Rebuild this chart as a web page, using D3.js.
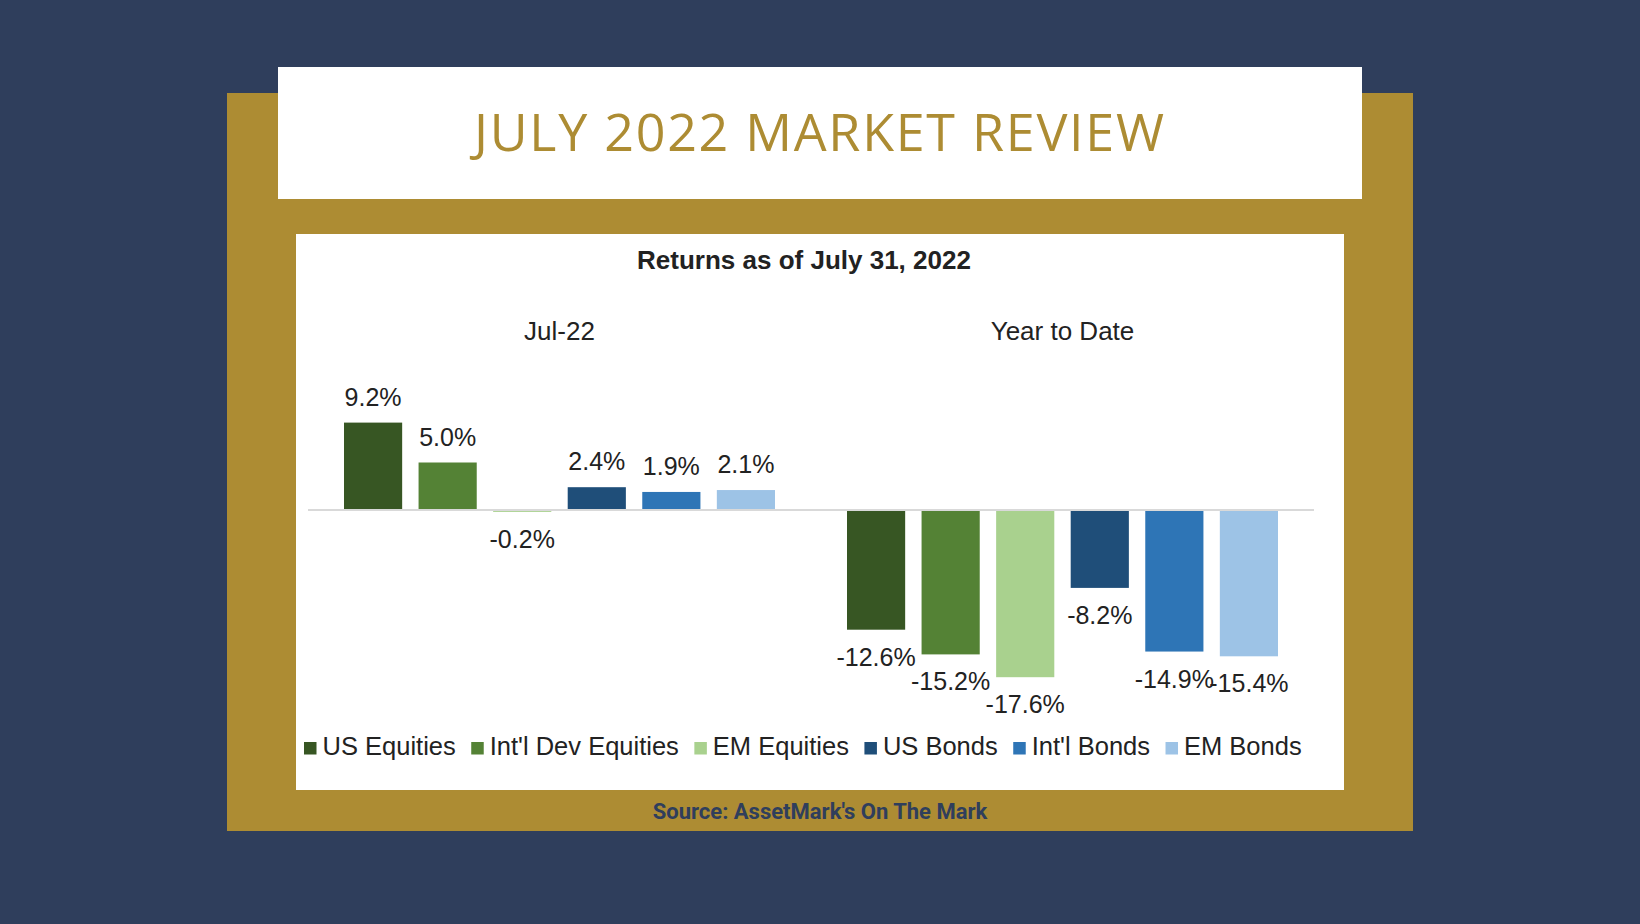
<!DOCTYPE html>
<html>
<head>
<meta charset="utf-8">
<script src="https://cdn.jsdelivr.net/npm/d3@7"></script>
<style>
  body { margin: 0; background: #2f3e5c; }
  svg { display: block; }
</style>
</head>
<body>
<div id="chart"></div>
<script>
// chart values
const periods = ["Jul-22", "Year to Date"];
const assetClasses = ["US Equities", "Int'l Dev Equities", "EM Equities", "US Bonds", "Int'l Bonds", "EM Bonds"];
const julReturns = [9.2, 5.0, -0.2, 2.4, 1.9, 2.1];
const ytdReturns = [-12.6, -15.2, -17.6, -8.2, -14.9, -15.4];
const seriesColors = ["#375623", "#548235", "#a9d18e", "#1f4e79", "#2e75b6", "#9dc3e6"];

const W = 1640, H = 924;
const NAVY = "#2f3e5c", GOLD = "#ad8c33";

const rows = [];
periods.forEach((p, i) => {
  const vals = i === 0 ? julReturns : ytdReturns;
  assetClasses.forEach((a, j) => rows.push({period: p, asset: a, value: vals[j]}));
});

const svg = d3.select("#chart").append("svg")
  .attr("width", W)
  .attr("height", H);

svg.append("rect").attr("width", W).attr("height", H).attr("fill", NAVY);

// gold frame, header card, chart card
svg.append("rect").attr("x", 227).attr("y", 93).attr("width", 1186).attr("height", 738).attr("fill", GOLD);
svg.append("rect").attr("x", 278).attr("y", 67).attr("width", 1084).attr("height", 132).attr("fill", "#fff");
svg.append("rect").attr("x", 296).attr("y", 234).attr("width", 1048).attr("height", 556).attr("fill", "#fff");

svg.append("text")
  .attr("x", 819).attr("y", 151)
  .attr("text-anchor", "middle")
  .attr("font-family", "'Open Sans', sans-serif")
  .attr("font-weight", 400)
  .attr("font-size", 52)
  .attr("textLength", 690)
  .attr("lengthAdjust", "spacing")
  .attr("fill", GOLD)
  .text("JULY 2022 MARKET REVIEW");

svg.append("text")
  .attr("x", 820).attr("y", 819)
  .attr("text-anchor", "middle")
  .attr("font-family", "Roboto, sans-serif")
  .attr("font-weight", 700)
  .attr("font-size", 22)
  .attr("fill", NAVY)
  .text("Source: AssetMark's On The Mark");

// chart
const font = "'Liberation Sans', Arial, sans-serif";
const ink = "#222";
const pct = v => v.toFixed(1) + "%";

const x0 = d3.scaleBand()
  .domain(periods)
  .range([308, 1314]);

const x1 = d3.scaleBand()
  .domain(assetClasses)
  .range([36, x0.bandwidth() - 36])
  .paddingInner(0.22);

const y = d3.scaleLinear()
  .domain([-20, 10])
  .range([700, 415]);

const color = d3.scaleOrdinal().domain(assetClasses).range(seriesColors);

svg.append("text")
  .attr("x", 804).attr("y", 269)
  .attr("text-anchor", "middle")
  .attr("font-family", font)
  .attr("font-weight", "bold")
  .attr("font-size", 26)
  .attr("fill", ink)
  .text("Returns as of July 31, 2022");

const g = svg.append("g");

g.selectAll(".period")
  .data(periods)
  .join("text")
    .attr("class", "period")
    .attr("x", d => x0(d) + x0.bandwidth() / 2)
    .attr("y", 340)
    .attr("text-anchor", "middle")
    .attr("font-family", font)
    .attr("font-size", 26)
    .attr("fill", ink)
    .text(d => d);

g.selectAll("rect.bar")
  .data(rows)
  .join("rect")
    .attr("class", "bar")
    .attr("x", d => x0(d.period) + x1(d.asset))
    .attr("y", d => y(Math.max(0, d.value)))
    .attr("width", x1.bandwidth())
    .attr("height", d => Math.abs(y(d.value) - y(0)))
    .attr("fill", d => color(d.asset));

// zero line
g.append("line")
  .attr("x1", x0.range()[0]).attr("x2", x0.range()[1])
  .attr("y1", y(0)).attr("y2", y(0))
  .attr("stroke", "#d9d9d9")
  .attr("stroke-width", 2);

g.selectAll(".label")
  .data(rows)
  .join("text")
    .attr("class", "label")
    .attr("x", d => x0(d.period) + x1(d.asset) + x1.bandwidth() / 2)
    .attr("y", d => d.value >= 0 ? y(d.value) - 17 : y(d.value) + 36)
    .attr("text-anchor", "middle")
    .attr("font-family", font)
    .attr("font-size", 25)
    .attr("fill", ink)
    .text(d => pct(d.value));

// legend
const legend = svg.append("g").attr("transform", "translate(304,755)");
let lx = 0;
assetClasses.forEach(a => {
  const item = legend.append("g").attr("transform", `translate(${lx},0)`);
  item.append("rect")
    .attr("x", 0).attr("y", -13)
    .attr("width", 12.5).attr("height", 12.5)
    .attr("fill", color(a));
  const t = item.append("text")
    .attr("x", 18.5).attr("y", 0)
    .attr("font-family", font)
    .attr("font-size", 25.5)
    .attr("fill", ink)
    .text(a);
  lx += 18.5 + t.node().getComputedTextLength() + 15.5;
});
</script>
</body>
</html>
